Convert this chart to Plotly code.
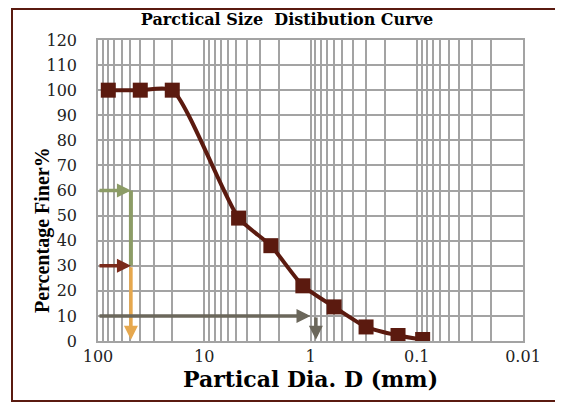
import numpy as np
import plotly.graph_objects as go

# ---- data ----
sizes = [80, 40, 20, 4.75, 2.36, 1.18, 0.6, 0.3, 0.15, 0.088]
finer = [100, 100, 100, 49, 38, 22, 13.6, 5.6, 2.2, 0.6]

x_tick_labels = ["100", "10", "1", "0.1", "0.01"]
x_tick_decades = [100, 10, 1, 0.1, 0.01]
y_ticks = list(range(0, 121, 10))

# schematic guide arrows (diameter, percent)
d60_x = [100, 49]; d60_y = [60, 60]
d60_drop_x = [49, 49]; d60_drop_y = [60, 30]
d30_x = [100, 49]; d30_y = [30, 30]
d30_drop_x = [49, 49]; d30_drop_y = [30, 0.5]
d10_x = [100, 1.0]; d10_y = [10, 10]
d10_drop_x = [0.89, 0.89]; d10_drop_y = [10, 0.5]

# minor + major tick values for log grid
grid_vals = []
for dec in [0.01, 0.1, 1, 10]:
    for m in range(1, 10):
        grid_vals.append(round(dec * m, 6))
grid_vals.append(100)
grid_text = [(x_tick_labels[x_tick_decades.index(v)] if v in x_tick_decades else "") for v in grid_vals]

line_col = "#5B1A0F"
serif = "Liberation Serif, Times New Roman, serif"
wide = "DejaVu Serif, serif"

fig = go.Figure()
fig.add_trace(go.Scatter(
    x=sizes, y=finer, mode="lines+markers",
    line=dict(color=line_col, width=4, shape="spline", smoothing=0.6),
    marker=dict(symbol="square", size=15, color=line_col),
    showlegend=False, hoverinfo="skip"))

# green vertical guide (no head)
fig.add_trace(go.Scatter(x=d60_drop_x, y=d60_drop_y, mode="lines",
                         line=dict(color="#8C9C66", width=4), showlegend=False, hoverinfo="skip"))

def arrow(xs, ys, color):
    fig.add_annotation(x=np.log10(xs[1]), y=ys[1], ax=np.log10(xs[0]), ay=ys[0],
                       xref="x", yref="y", axref="x", ayref="y",
                       showarrow=True, arrowhead=2, arrowsize=0.8, arrowwidth=3.5,
                       arrowcolor=color, text="", standoff=0, startstandoff=0)

arrow(d60_x, d60_y, "#8C9C66")
arrow(d30_x, d30_y, "#7A2A1A")
arrow(d30_drop_x, d30_drop_y, "#E6A84E")
arrow(d10_x, d10_y, "#6B675B")
arrow(d10_drop_x, d10_drop_y, "#6B675B")

# page body has an 8px margin, so figure coords = screen coords - 8
OFF = 8
W, H = 563 - OFF, 404 - OFF
L, R, T, B = 98 - OFF, 523 - OFF, 40 - OFF, 341 - OFF
pw, ph = R - L, B - T

# outer frame
fig.add_shape(type="rect", xref="paper", yref="paper",
              x0=(12 - OFF - L) / pw, x1=(560 - OFF - L) / pw,
              y0=(B - (401 - OFF)) / ph, y1=(B - 1) / ph,
              line=dict(color="#5A1A10", width=2), layer="below")

fig.add_annotation(text="<b>Percentage Finer%</b>", xref="paper", yref="paper",
                   x=(42 - OFF - L) / pw, y=(B - (230 - OFF)) / ph, textangle=-90, showarrow=False,
                   font=dict(family=serif, size=20, color="black"), xanchor="center", yanchor="middle")

fig.update_layout(
    width=W, height=H,
    margin=dict(l=L, r=W - R, t=T, b=H - B, autoexpand=False),
    paper_bgcolor="white", plot_bgcolor="white",
    title=dict(text="<b>Parctical Size  Distibution Curve</b>", x=(287 - OFF) / W, xanchor="center",
               y=1 - (19 - OFF) / H, yanchor="middle", font=dict(family=wide, size=16, color="black")),
    font=dict(family=wide, color="black"),
)
fig.update_xaxes(type="log", range=[2, -2], tickvals=grid_vals, ticktext=grid_text,
                 showgrid=True, gridcolor="#A3A3A3", gridwidth=1.5, automargin=False,
                 showline=True, linecolor="#A3A3A3", linewidth=1.5, mirror=True,
                 ticks="", tickfont=dict(family=wide, size=16, color="#222"),
                 title=dict(text="<b>Partical Dia. D (mm)</b>", font=dict(family=wide, size=22), standoff=7),
                 zeroline=False)
fig.update_yaxes(range=[0, 120], tickvals=y_ticks, showgrid=True, gridcolor="#A3A3A3", gridwidth=1.5,
                 showline=True, linecolor="#A3A3A3", linewidth=1.5, mirror=True, automargin=False,
                 ticks="outside", ticklen=16, tickcolor="rgba(0,0,0,0)",
                 tickfont=dict(family=wide, size=16, color="#222"), zeroline=False)

fig.write_html("out.html")
